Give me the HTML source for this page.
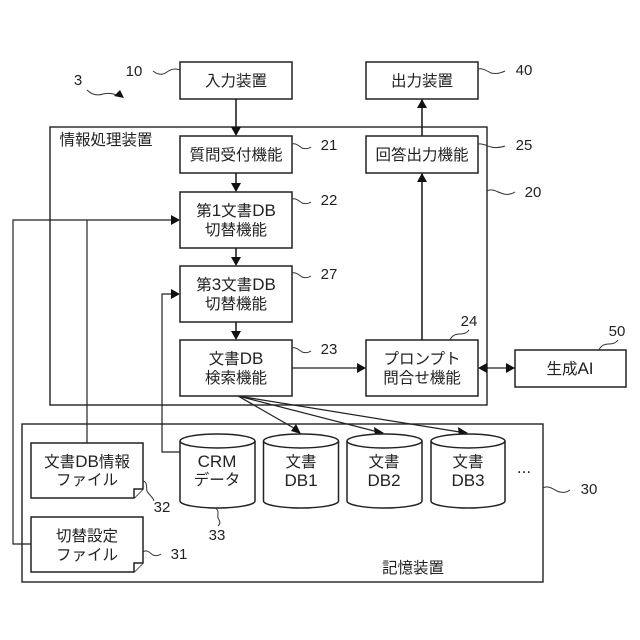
<!DOCTYPE html>
<html><head><meta charset="utf-8">
<style>
html,body{margin:0;padding:0;background:#fff;width:640px;height:640px;overflow:hidden}
svg{display:block}
text{font-family:"Liberation Sans","Noto Sans CJK JP",sans-serif;fill:#222}
.t{font-size:15.5px;text-anchor:middle}
.t tspan.e{font-size:17px}
.n{font-size:15px;text-anchor:middle}
.b{fill:#fff;stroke:#222;stroke-width:1.5}
.l{fill:none;stroke:#222;stroke-width:1.2}
.h{fill:none;stroke:#222;stroke-width:1.6}
.s{fill:none;stroke:#333;stroke-width:1}
.a{fill:#111;stroke:none}
</style></head><body>
<svg width="640" height="640" viewBox="0 0 640 640" xmlns="http://www.w3.org/2000/svg">
<rect width="640" height="640" fill="#fff"/>

<!-- frames -->
<rect x="50" y="127" width="437" height="278" fill="none" stroke="#222" stroke-width="1.4"/>
<rect x="22" y="424" width="521" height="158" fill="none" stroke="#222" stroke-width="1.4"/>

<!-- connectors -->
<path class="h" d="M236 99V130M236 173V186M236 248V260M236 322V334M422 136V99M422 340V173"/>
<path class="l" d="M174 220H13V544H31M87 220V443M174 294H162V452H180M292 368H360M484 368H509"/>
<path class="l" d="M238 396L299 431M238 396L382 433M238 396L466 433"/>

<!-- arrowheads -->
<polygon class="a" points="236,136 231,127 241,127"/>
<polygon class="a" points="236,192 231,183 241,183"/>
<polygon class="a" points="236,266 231,257 241,257"/>
<polygon class="a" points="236,340 231,331 241,331"/>
<polygon class="a" points="422,99 417,108 427,108"/>
<polygon class="a" points="422,173 417,182 427,182"/>
<polygon class="a" points="180,220 171,215 171,225"/>
<polygon class="a" points="180,294 171,289 171,299"/>
<polygon class="a" points="366,368 357,363 357,373"/>
<polygon class="a" points="478,368 487,363 487,373"/>
<polygon class="a" points="515,368 506,363 506,373"/>
<polygon class="a" points="301,434 291,431 296,424"/>
<polygon class="a" points="384,433 375,436 374,427"/>
<polygon class="a" points="468,433 459,436 458,427"/>
<polygon class="a" points="124,98 114,96 120,90"/>

<!-- boxes -->
<rect class="b" x="180" y="62" width="112" height="37"/>
<rect class="b" x="366" y="62" width="112" height="37"/>
<rect class="b" x="180" y="136" width="112" height="37"/>
<rect class="b" x="366" y="136" width="112" height="37"/>
<rect class="b" x="180" y="192" width="112" height="56"/>
<rect class="b" x="180" y="266" width="112" height="56"/>
<rect class="b" x="180" y="340" width="112" height="56"/>
<rect class="b" x="366" y="340" width="112" height="56"/>
<rect class="b" x="515" y="350" width="111" height="37"/>

<!-- files -->
<path class="b" d="M31 443H143V489L134 498H31Z"/>
<path class="b" d="M134 498V489H143" fill="none"/>
<path class="b" d="M31 517H143V563L134 572H31Z"/>
<path class="b" d="M134 572V563H143" fill="none"/>

<!-- cylinders -->
<g class="b">
<path d="M180 441A37.5 7 0 0 1 255 441V501A37.5 7 0 0 1 180 501Z"/><path d="M180 441A37.5 7 0 0 0 255 441" fill="none"/>
<path d="M263.500 441A37.500 7 0 0 1 338.500 441V501A37.500 7 0 0 1 263.500 501Z"/><path d="M263.500 441A37.500 7 0 0 0 338.500 441" fill="none"/>
<path d="M347 441A37.500 7 0 0 1 422 441V501A37.500 7 0 0 1 347 501Z"/><path d="M347 441A37.500 7 0 0 0 422 441" fill="none"/>
<path d="M431 441A37 7 0 0 1 505 441V501A37 7 0 0 1 431 501Z"/><path d="M431 441A37 7 0 0 0 505 441" fill="none"/>
</g>

<!-- squiggles -->
<path class="s" d="M153 71C158 75 163 75 167 72C171 69 175 68 180 70"/>
<path class="s" d="M87 90C92 95 97 96 103 94C108 93 112 93 116 95"/>
<path class="s" d="M478 69C483 68 487 71 491 73C495 74 499 74 505 71"/>
<path class="s" d="M292 144C296 143 299 146 302 148C305 149 308 149 311 147"/>
<path class="s" d="M292 199C296 198 299 201 302 203C305 204 308 204 311 202"/>
<path class="s" d="M292 273C296 272 299 275 302 277C305 278 308 278 311 276"/>
<path class="s" d="M292 348C296 347 299 350 302 352C305 353 308 353 311 351"/>
<path class="s" d="M478 144C483 143 487 146 491 147C495 148 499 148 505 146"/>
<path class="s" d="M487 191C492 188 497 192 501 193C505 195 510 195 515 192"/>
<path class="s" d="M543 488C548 485 553 489 557 491C561 493 566 493 570 490"/>
<path class="s" d="M450 340C452 335 456 334 460 334C464 334 467 333 469 330"/>
<path class="s" d="M599 350C601 345 605 344 609 344C613 344 616 343 618 340"/>
<path class="s" d="M143 481C148 482 146 488 147 491C149 495 153 497 154 501"/>
<path class="s" d="M143 552C147 549 150 553 153 555C156 556 158 556 161 554"/>
<path class="s" d="M215 508C220 510 217 515 218 518C220 521 221 523 218 526"/>

<!-- labels -->
<text class="t" x="236" y="86">入力装置</text>
<text class="t" x="422" y="86">出力装置</text>
<text class="t" x="106" y="145">情報処理装置</text>
<text class="t" x="236" y="160">質問受付機能</text>
<text class="t" x="422" y="160">回答出力機能</text>
<text class="t" x="236" y="216">第<tspan class="e">1</tspan>文書<tspan class="e">DB</tspan></text>
<text class="t" x="236" y="235">切替機能</text>
<text class="t" x="236" y="290">第<tspan class="e">3</tspan>文書<tspan class="e">DB</tspan></text>
<text class="t" x="236" y="309">切替機能</text>
<text class="t" x="236" y="364">文書<tspan class="e">DB</tspan></text>
<text class="t" x="236" y="383">検索機能</text>
<text class="t" x="422" y="364">プロンプト</text>
<text class="t" x="422" y="383">問合せ機能</text>
<text class="t" x="570" y="374">生成<tspan class="e">AI</tspan></text>
<text class="t" x="87" y="467">文書<tspan class="e">DB</tspan>情報</text>
<text class="t" x="87" y="485">ファイル</text>
<text class="t" x="87" y="541">切替設定</text>
<text class="t" x="87" y="560">ファイル</text>
<text class="t" x="217" y="467"><tspan class="e">CRM</tspan></text>
<text class="t" x="217" y="485">データ</text>
<text class="t" x="301" y="467">文書</text>
<text class="t" x="301" y="486"><tspan class="e">DB1</tspan></text>
<text class="t" x="384" y="467">文書</text>
<text class="t" x="384" y="486"><tspan class="e">DB2</tspan></text>
<text class="t" x="468" y="467">文書</text>
<text class="t" x="468" y="486"><tspan class="e">DB3</tspan></text>
<text class="t" x="413" y="573">記憶装置</text>
<text class="t" x="524" y="473" style="font-size:17px">...</text>

<text class="n" x="134" y="76">10</text>
<text class="n" x="78" y="85">3</text>
<text class="n" x="524" y="75">40</text>
<text class="n" x="329" y="150">21</text>
<text class="n" x="329" y="205">22</text>
<text class="n" x="329" y="279">27</text>
<text class="n" x="329" y="354">23</text>
<text class="n" x="524" y="150">25</text>
<text class="n" x="533" y="197">20</text>
<text class="n" x="469" y="326">24</text>
<text class="n" x="617" y="336">50</text>
<text class="n" x="589" y="494">30</text>
<text class="n" x="162" y="512">32</text>
<text class="n" x="179" y="559">31</text>
<text class="n" x="217" y="540">33</text>
</svg>
</body></html>
